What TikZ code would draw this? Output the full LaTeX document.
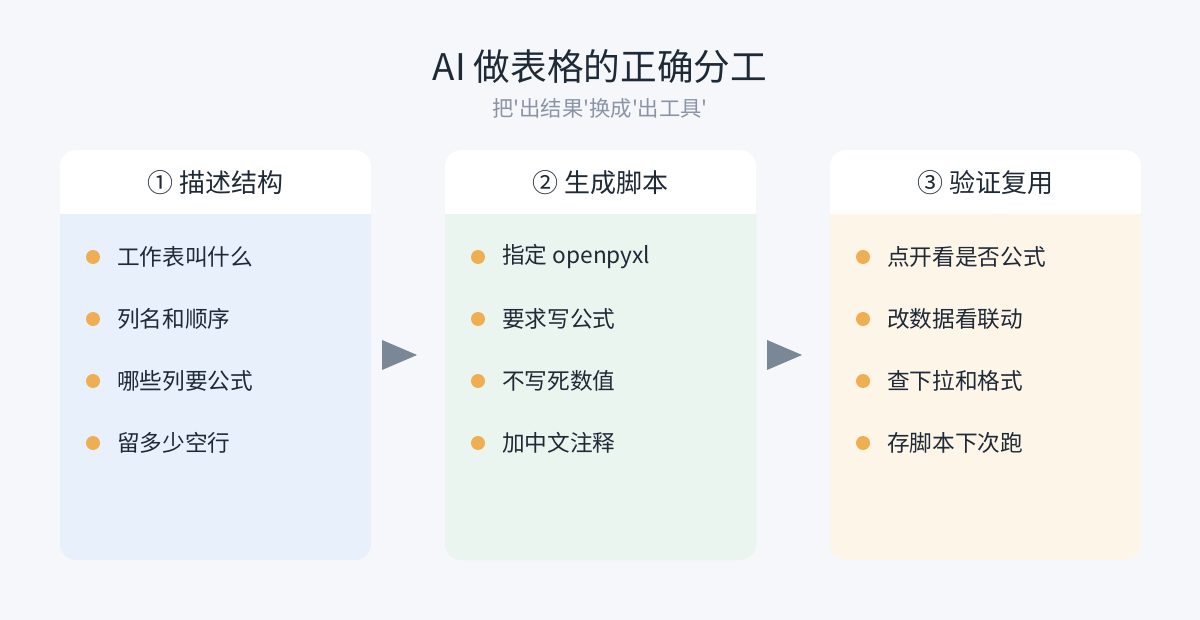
\documentclass[tikz,border=0pt]{standalone}
\usepackage{fontspec}
\setmainfont{Noto Sans CJK SC}
\newfontfamily\cjk{Noto Sans CJK SC}
\usetikzlibrary{positioning}
\definecolor{pagebg}{HTML}{F5F7FB}
\definecolor{titlec}{HTML}{1F2A37}
\definecolor{subc}{HTML}{8A94A6}
\definecolor{bodyA}{HTML}{E8F0FC}
\definecolor{bodyB}{HTML}{EBF5F0}
\definecolor{bodyC}{HTML}{FDF5E8}
\definecolor{dotc}{HTML}{F0AE52}
\definecolor{arrowc}{HTML}{7A8796}
\tikzset{
  item/.style={anchor=west, font=\cjk\fontsize{17}{19}\selectfont, text=titlec, inner sep=0pt},
  head/.style={font=\cjk\fontsize{19.5}{21}\selectfont, text=titlec, inner sep=0pt},
  dot/.style={circle, fill=dotc, minimum size=10.5pt, inner sep=0pt}
}
% one card: x offset, body colour, head text, four items
\newcommand{\card}[7]{%
  \fill[#2, rounded corners=12pt] (#1,150) rectangle ++(311,410);
  \fill[white, rounded corners=12pt] (#1,150) rectangle ++(311,64);
  \fill[white] (#1,190) rectangle ++(311,24);
  \node[head] at (#1+155.5,183) {#3};
  \foreach \t [count=\i] in {#4,#5,#6,#7}
    \node[dot] at (#1+33,195+62*\i) {} node[item] at (#1+57,195+62*\i) {\t};
}
\begin{document}
\begin{tikzpicture}[x=0.75pt,y=-0.75pt]
  \fill[pagebg] (0,0) rectangle (1200,620);
  \node[font=\cjk\fontsize{27.5}{30}\selectfont, text=titlec] (title) at (600,67) {AI 做表格的正确分工};
  \node[font=\cjk\fontsize{16}{18}\selectfont, text=subc] (sub) at (600,108) {把'出结果'换成'出工具'};
  \card{60}{bodyA}{① 描述结构}{工作表叫什么}{列名和顺序}{哪些列要公式}{留多少空行}
  \card{445}{bodyB}{② 生成脚本}{指定 openpyxl}{要求写公式}{不写死数值}{加中文注释}
  \card{830}{bodyC}{③ 验证复用}{点开看是否公式}{改数据看联动}{查下拉和格式}{存脚本下次跑}
  % arrows between cards
  \fill[arrowc] (382,340) -- (417,355) -- (382,370) -- cycle;
  \fill[arrowc] (767,340) -- (802,355) -- (767,370) -- cycle;
\end{tikzpicture}
\end{document}
